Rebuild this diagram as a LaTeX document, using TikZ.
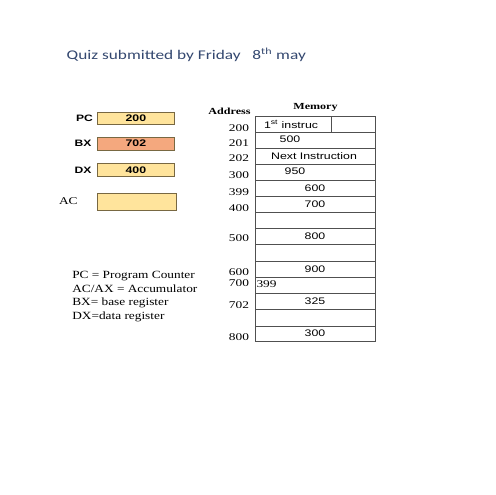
\documentclass[tikz,border=0pt]{standalone}
\usepackage{fontspec}
\setmainfont{Liberation Serif}
\setsansfont{Liberation Sans}
\newfontfamily\carl{Carlito}
\definecolor{titleblue}{RGB}{52,72,112}
\definecolor{regyellow}{RGB}{255,228,156}
\definecolor{regsalmon}{RGB}{244,168,126}
\definecolor{regborder}{RGB}{120,104,66}
\definecolor{memline}{RGB}{80,80,80}
\newcommand{\sx}[2][1.3]{\scalebox{#1}[1]{#2}}
\tikzset{
  txt/.style={inner sep=0pt, outer sep=0pt},
  regbox/.style={draw=regborder, line width=0.9pt, inner sep=0pt},
  reglabel/.style={txt, font=\sffamily\bfseries\fontsize{9.3}{10}\selectfont},
  regval/.style={txt, font=\sffamily\bfseries\fontsize{9.5}{10}\selectfont},
  addr/.style={txt, anchor=east, font=\fontsize{10.3}{11}\selectfont},
  memtxt/.style={txt, font=\sffamily\fontsize{9.5}{10}\selectfont},
  hdr/.style={txt, font=\bfseries\fontsize{9.3}{10}\selectfont},
  memrule/.style={draw=memline, line width=0.8pt}
}
\begin{document}
\begin{tikzpicture}[x=1pt,y=-1pt]
\useasboundingbox[fill=white] (0,0) rectangle (495,495);
% title
\node[txt, anchor=west, text=titleblue, font=\carl\fontsize{13.3}{15}\selectfont] (title) at (66.7,55)
  {\sx{Quiz submitted by Friday\ \ \ 8\textsuperscript{th} may}};
% registers
\draw[regbox, fill=regyellow] (97.3,112) rectangle (174.5,124.3) node[pos=0.5, regval] (pcv) {\sx{200}};
\draw[regbox, fill=regsalmon] (97.3,137.3) rectangle (174.5,150) node[pos=0.5, regval] (bxv) {\sx{702}};
\draw[regbox, fill=regyellow] (97.3,163.7) rectangle (174.5,176.3) node[pos=0.5, regval] (dxv) {\sx{400}};
\draw[regbox, fill=regyellow] (97.3,193.3) rectangle (176,210.5) coordinate (acbox);
\node[reglabel] (pc) at (84.5,118.2) {\sx{PC}};
\node[reglabel] (bx) at (83,143.6) {\sx{BX}};
\node[reglabel] (dx) at (83,170) {\sx{DX}};
\node[txt, font=\fontsize{10.3}{11}\selectfont] (ac) at (68.3,201.5) {\sx{AC}};
% legend
\node[txt, anchor=north west, align=left, font=\fontsize{11}{13.5}\selectfont] (legend) at (72.3,271.5)
  {\sx[1.21]{PC = Program Counter}\\ \sx[1.21]{AC/AX = Accumulator}\\ \sx[1.21]{BX= base register}\\ \sx[1.21]{DX=data register}};
% headers
\node[hdr] (addrhdr) at (229.5,111.5) {\sx{Address}};
\node[hdr] (memhdr) at (315.5,107.5) {\sx{Memory}};
% memory table
\draw[memrule] (255.5,116) rectangle (375.5,341.3);
\foreach \yy in {132,148,164,180,196,212,228,244,261,277,293,309,326}
  \draw[memrule] (255.5,\yy) -- (375.5,\yy);
\draw[memrule] (331.7,116) -- (331.7,132);
% addresses
\node[addr] (a200) at (249,127.7) {\sx{200}};
\node[addr] (a201) at (249,143.3) {\sx{201}};
\node[addr] (a202) at (249,158.6) {\sx{202}};
\node[addr] (a300) at (249,175) {\sx{300}};
\node[addr] (a399) at (249,191.7) {\sx{399}};
\node[addr] (a400) at (249,208.3) {\sx{400}};
\node[addr] (a500) at (249,238.3) {\sx{500}};
\node[addr] (a600) at (249,271.7) {\sx{600}};
\node[addr] (a700) at (249,283.5) {\sx{700}};
\node[addr] (a702) at (249,305) {\sx{702}};
\node[addr] (a800) at (249,336.7) {\sx{800}};
% memory contents
\node[memtxt, anchor=west] (m1) at (264,124.3) {\sx{1\textsuperscript{st} instruc}};
\node[memtxt] (m2) at (290,139.5) {\sx{500}};
\node[memtxt] (m3) at (314,156) {\sx{Next Instruction}};
\node[memtxt] (m4) at (295,171.3) {\sx{950}};
\node[memtxt] (m5) at (315,188) {\sx{600}};
\node[memtxt] (m6) at (315,204) {\sx{700}};
\node[memtxt] (m7) at (315,236.5) {\sx{800}};
\node[memtxt] (m8) at (315,269.3) {\sx{900}};
\node[txt, anchor=west, font=\fontsize{10.3}{11}\selectfont] (m9) at (256.5,284.3) {\sx{399}};
\node[memtxt] (m10) at (315,301) {\sx{325}};
\node[memtxt] (m11) at (315,333.3) {\sx{300}};
\end{tikzpicture}
\end{document}
